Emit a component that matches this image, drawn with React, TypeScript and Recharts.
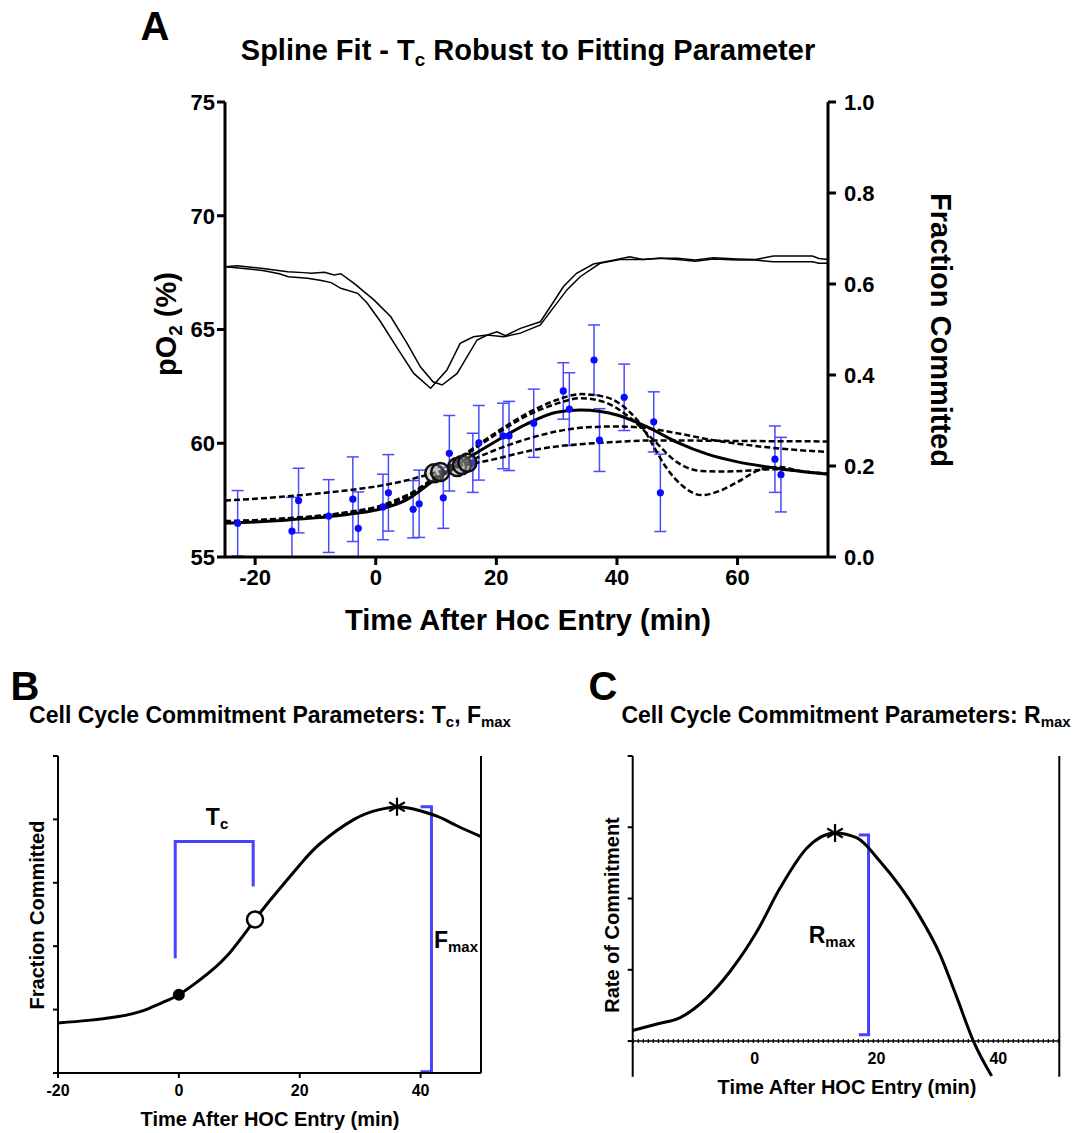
import React from "react";
import { ComposedChart, Line, Scatter, XAxis, YAxis, ErrorBar, ReferenceLine } from "recharts";

const FONT = '"Liberation Sans", Arial, Helvetica, sans-serif';
const BLUE = "#0a0aff";
const BRACKET = "#4444ff";

// ---- Panel A ----
const A_X_TICKS = [-20, 0, 20, 40, 60];
const A_PO2_TICKS = [55, 60, 65, 70, 75];
const A_FRAC_TICKS = [0, 0.2, 0.4, 0.6, 0.8, 1.0];

// two pO2 traces (time, pO2 %)
const po2TraceOne = [
  [-25, 67.76], [-21, 67.66], [-18.5, 67.58], [-16, 67.45], [-14.5, 67.32], [-11.3, 67.25],
  [-9, 67.15], [-7.4, 67.06], [-5.8, 66.81], [-3, 66.59], [-1.4, 66.15], [0.8, 65.34],
  [3.6, 64.17], [6.3, 63.07], [9.1, 62.42], [11.8, 63.22], [14, 64.39], [16.2, 64.68],
  [18.5, 64.76], [20.1, 64.9], [21.5, 64.73], [24, 65.05], [27.3, 65.34], [29.5, 66.22],
  [31.1, 66.88], [33.3, 67.47], [36.1, 67.88], [39.4, 68.05], [42.1, 68.2], [44.3, 68.08],
  [47.1, 68.13], [50, 68.13], [53, 68.05], [56, 68.15], [60, 68.1], [63, 68.08],
  [65.9, 68.23], [72.4, 68.23], [73.5, 68.12], [75, 68.08],
];
const po2TraceTwo = [
  [-25, 67.76], [-23, 67.8], [-19, 67.69], [-14.6, 67.54], [-12, 67.5], [-10.7, 67.47],
  [-8.5, 67.52], [-6.9, 67.4], [-5.8, 67.45], [-3.6, 67.03], [-0.3, 66.3], [2.5, 65.56],
  [5.2, 64.39], [7.4, 63.36], [9.5, 62.7], [11, 62.56], [13.5, 63.07], [16.8, 64.54],
  [18.5, 64.76], [21.2, 64.68], [24, 64.84], [27.3, 65.2], [30, 66.15], [31.7, 66.74],
  [33.9, 67.32], [37.2, 67.91], [40.5, 68.08], [44.3, 68.08], [47.1, 68.13], [50, 68.08],
  [53, 68.0], [56, 68.1], [60, 68.05], [63, 68.05], [65.9, 67.98], [72.4, 67.98],
  [73.5, 67.91], [75, 67.91],
];

// fraction committed measurements: time, fraction, error (number or [low, high])
const commitPoints: [number, number, number | number[]][] = [
  [-22.9, 0.074, 0.072], [-13.9, 0.057, [0.057, 0.074]], [-12.8, 0.124, 0.071],
  [-7.8, 0.09, 0.08], [-3.8, 0.127, 0.093], [-2.9, 0.063, [0.063, 0.08]],
  [1.2, 0.11, 0.072], [2.1, 0.141, 0.084], [6.2, 0.105, 0.063], [7.2, 0.117, 0.074],
  [11.2, 0.13, 0.067], [12.2, 0.228, 0.083], [16.1, 0.207, 0.065], [17.1, 0.251, 0.082],
  [21.1, 0.266, 0.072], [22.1, 0.266, 0.076], [26.2, 0.294, 0.075], [31.1, 0.365, 0.062],
  [32.1, 0.325, 0.08], [36.2, 0.433, 0.077], [37.1, 0.257, 0.069], [41.2, 0.351, 0.073],
  [46.1, 0.297, 0.066], [47.2, 0.141, 0.085], [66.2, 0.215, 0.073], [67.2, 0.181, 0.082],
];

const splineMain = [
  [-25, 0.074], [-20, 0.077], [-15, 0.081], [-10, 0.086], [-5, 0.093], [0, 0.103],
  [5, 0.125], [10, 0.172], [15, 0.215], [20, 0.255], [25, 0.292], [30, 0.318], [34, 0.323],
  [40, 0.312], [45, 0.286], [50, 0.252], [55, 0.226], [60, 0.209], [65, 0.198], [70, 0.189],
  [75, 0.182],
];
const splineFlat = [
  [-25, 0.124], [-20, 0.128], [-15, 0.133], [-10, 0.139], [-5, 0.146], [0, 0.155], [5, 0.168],
  [10, 0.186], [15, 0.202], [20, 0.216], [25, 0.232], [30, 0.243], [35, 0.249], [40, 0.253],
  [45, 0.256], [50, 0.256], [60, 0.255], [75, 0.254],
];
const splineMid = [
  [-25, 0.079], [-20, 0.081], [-15, 0.085], [-10, 0.09], [-5, 0.098], [0, 0.11], [5, 0.135],
  [10, 0.172], [15, 0.207], [20, 0.236], [25, 0.259], [30, 0.276], [35, 0.285], [40, 0.287],
  [45, 0.283], [50, 0.272], [55, 0.259], [60, 0.249], [65, 0.241], [70, 0.235], [75, 0.231],
];
const splineTight = [
  [-25, 0.077], [-20, 0.079], [-15, 0.083], [-10, 0.088], [-5, 0.096], [0, 0.107], [5, 0.13],
  [10, 0.175], [15, 0.225], [20, 0.27], [25, 0.31], [30, 0.337], [34, 0.349], [38, 0.34],
  [42, 0.308], [46, 0.258], [50, 0.208], [54, 0.189], [58, 0.188], [62, 0.19], [66, 0.193],
  [70, 0.189], [75, 0.183],
];
const splineWiggly = [
  [-25, 0.078], [-20, 0.08], [-15, 0.084], [-10, 0.089], [-5, 0.097], [0, 0.108], [5, 0.132],
  [10, 0.178], [15, 0.228], [20, 0.274], [25, 0.315], [30, 0.345], [34, 0.358], [38, 0.352],
  [42, 0.32], [44, 0.29], [46, 0.245], [48, 0.2], [51, 0.155], [54, 0.136], [57, 0.145],
  [60, 0.165], [64, 0.193], [67, 0.198], [70, 0.19], [75, 0.183],
];
// Tc estimate of each fit
const tcMarks = [[9.7, 0.184], [10.7, 0.187], [13.5, 0.198], [14.3, 0.202], [15.2, 0.207]];

// ---- Panel B ----
const B_X_TICKS = [-20, 0, 20, 40];
const B_Y_TICKS = [0, 1, 2, 3, 4, 5];
const fractionCurve = [
  [-20, 0.79], [-15, 0.83], [-10, 0.89], [-6, 0.98], [-3, 1.1], [0, 1.235], [3.5, 1.47],
  [7.9, 1.84], [12.6, 2.42], [16.1, 2.84], [20, 3.28], [23.4, 3.62], [29, 4.0], [33, 4.15],
  [36.1, 4.2], [39, 4.16], [42.7, 4.05], [46, 3.9], [50, 3.73],
];
const entryMark = [[0, 1.235]];
const tcMarkB = [[12.6, 2.42]];
const fmaxMark = [[36.1, 4.2]];
const tcBracket = [[-0.6, 1.81], [-0.6, 3.65], [12.3, 3.65], [12.3, 2.94]];
const fmaxBracket = [[40, 4.2], [41.8, 4.2], [41.8, 0.02], [40, 0.02]];

// ---- Panel C ----
const C_X_TICKS = [0, 20, 40];
const C_Y_TICKS = [0, 1, 2, 3, 4];
const C_Y_MIN = -0.5;
const C_Y_MAX = 4;
const rateCurve = [
  [-20, 0.15], [-16, 0.24], [-12.2, 0.33], [-7.8, 0.61], [-4, 0.98], [0.4, 1.54], [4.2, 2.15],
  [8.6, 2.71], [13.2, 2.92], [16.8, 2.85], [20.6, 2.52], [26.6, 1.82], [30.4, 1.22],
  [33.2, 0.61], [35.9, 0], [38.9, -0.49],
];
const rmaxMark = [[13.2, 2.92]];
const rmaxBracket = [[17.1, 2.89], [18.7, 2.89], [18.7, 0.09], [17.1, 0.09]];

const pts = (arr: number[][]) => arr.map(([x, y]) => ({ x, y }));

const Txt = ({ x, y, size, rotate = 0, children }: any) => (
  <div
    style={{
      position: "absolute",
      left: x,
      top: y,
      transform: `translate(-50%, -50%) rotate(${rotate}deg)`,
      fontSize: size,
      fontWeight: 700,
      whiteSpace: "nowrap",
      lineHeight: 1,
      color: "#000",
    }}
  >
    {children}
  </div>
);
const Sub = ({ children }: any) => (
  <span style={{ fontSize: "0.65em", position: "relative", top: "0.3em" }}>{children}</span>
);

const Asterisk = ({ cx, cy }: any) => {
  const r = 9;
  const arms = [90, 30, 150].map((a) => {
    const dx = r * Math.cos((a * Math.PI) / 180);
    const dy = r * Math.sin((a * Math.PI) / 180);
    return <line key={a} x1={cx - dx} y1={cy - dy} x2={cx + dx} y2={cy + dy} stroke="#000" strokeWidth={2.2} />;
  });
  return <g>{arms}</g>;
};

const axisA = { stroke: "#000", strokeWidth: 3 };
const tickA = { fill: "#000", fontSize: 22, fontWeight: 700 };
const axisBC = { stroke: "#000", strokeWidth: 2 };
const tickBC = { fill: "#000", fontSize: 16, fontWeight: 700 };

function PanelA() {
  return (
    <ComposedChart width={1075} height={640} margin={{ top: 102, right: 187, bottom: 53, left: 165 }}>
      <XAxis type="number" dataKey="x" domain={[-25, 75]} ticks={A_X_TICKS} allowDataOverflow
        axisLine={axisA} tickLine={axisA} tickSize={8} tickMargin={4} tick={tickA} height={30} />
      <YAxis yAxisId="po2" dataKey="y" orientation="left" type="number" domain={[55, 75]} ticks={A_PO2_TICKS}
        allowDataOverflow axisLine={axisA} tickLine={axisA} tickSize={8} tickMargin={2} tick={tickA} width={60} />
      <YAxis yAxisId="frac" dataKey="y" orientation="right" type="number" domain={[0, 1]} ticks={A_FRAC_TICKS}
        allowDataOverflow tickFormatter={(v) => v.toFixed(1)} axisLine={axisA} tickLine={axisA} tickSize={8}
        tickMargin={8} tick={tickA} width={60} />
      <Line yAxisId="po2" data={pts(po2TraceOne)} dataKey="y" type="linear" stroke="#000" strokeWidth={1.5} dot={false} isAnimationActive={false} />
      <Line yAxisId="po2" data={pts(po2TraceTwo)} dataKey="y" type="linear" stroke="#000" strokeWidth={1.5} dot={false} isAnimationActive={false} />
      <Scatter
        yAxisId="frac"
        data={commitPoints.map(([x, y, err]) => ({ x, y, err }))}
        dataKey="y"
        isAnimationActive={false}
        shape={(p: any) => <circle cx={p.cx} cy={p.cy} r={3.6} fill={BLUE} />}
      >
        <ErrorBar dataKey="err" direction="y" width={6} stroke="#4a4aff" strokeWidth={1.5} isAnimationActive={false} />
      </Scatter>
      {[splineFlat, splineMid, splineTight, splineWiggly].map((s, i) => (
        <Line key={i} yAxisId="frac" data={pts(s)} dataKey="y" type="monotone" stroke="#000" strokeWidth={2.5}
          strokeDasharray="6 3" dot={false} isAnimationActive={false} />
      ))}
      <Line yAxisId="frac" data={pts(splineMain)} dataKey="y" type="monotone" stroke="#000" strokeWidth={3} dot={false} isAnimationActive={false} />
      <Scatter
        yAxisId="frac"
        data={pts(tcMarks)}
        dataKey="y"
        isAnimationActive={false}
        shape={(p: any) => (
          <circle cx={p.cx} cy={p.cy} r={9} fill="rgba(150,150,150,0.35)" stroke="#111" strokeWidth={2.5} />
        )}
      />
    </ComposedChart>
  );
}

function PanelB() {
  return (
    <ComposedChart width={540} height={473} margin={{ top: 96, right: 54, bottom: 35, left: 38 }}>
      <XAxis type="number" dataKey="x" domain={[-20, 50]} ticks={B_X_TICKS} allowDataOverflow
        axisLine={axisBC} tickLine={axisBC} tickSize={5} tickMargin={7} tick={tickBC} height={25} />
      <YAxis yAxisId="l" dataKey="y" type="number" domain={[0, 5]} ticks={B_Y_TICKS} allowDataOverflow
        tickFormatter={() => ""} axisLine={axisBC} tickLine={axisBC} tickSize={5} width={20} />
      <YAxis yAxisId="r" orientation="right" type="number" domain={[0, 5]} ticks={[]} tick={false}
        axisLine={axisBC} tickLine={false} width={5} />
      <Line yAxisId="l" data={pts(tcBracket)} dataKey="y" type="linear" stroke={BRACKET} strokeWidth={3} dot={false} isAnimationActive={false} />
      <Line yAxisId="l" data={pts(fmaxBracket)} dataKey="y" type="linear" stroke={BRACKET} strokeWidth={3} dot={false} isAnimationActive={false} />
      <Line yAxisId="l" data={pts(fractionCurve)} dataKey="y" type="natural" stroke="#000" strokeWidth={3} dot={false} isAnimationActive={false} />
      <Scatter yAxisId="l" data={pts(entryMark)} dataKey="y" isAnimationActive={false}
        shape={(p: any) => <circle cx={p.cx} cy={p.cy} r={6} fill="#000" />} />
      <Scatter yAxisId="l" data={pts(tcMarkB)} dataKey="y" isAnimationActive={false}
        shape={(p: any) => <circle cx={p.cx} cy={p.cy} r={8} fill="#fff" stroke="#000" strokeWidth={2.5} />} />
      <Scatter yAxisId="l" data={pts(fmaxMark)} dataKey="y" isAnimationActive={false} shape={Asterisk} />
    </ComposedChart>
  );
}

const C_TOP = 96;
const C_BOTTOM = 56.3;
const C_HEIGHT = 473;
const C_SHIFT = ((C_HEIGHT - C_TOP - C_BOTTOM) * (0 - C_Y_MIN)) / (C_Y_MAX - C_Y_MIN);

const ZeroAxisTick = ({ x, y, payload }: any) => (
  <text x={x} y={y - C_SHIFT} dy="0.71em" textAnchor="middle" fill="#000" fontSize={16} fontWeight={700}>
    {payload.value}
  </text>
);

function PanelC() {
  return (
    <ComposedChart width={535} height={C_HEIGHT} margin={{ top: C_TOP, right: 10.7, bottom: C_BOTTOM - 25, left: 72.7 }}>
      <XAxis type="number" dataKey="x" domain={[-20, 50]} ticks={C_X_TICKS} allowDataOverflow
        axisLine={false} tickLine={false} tickSize={0} tickMargin={12} tick={<ZeroAxisTick />} height={25} />
      <YAxis yAxisId="l" dataKey="y" type="number" domain={[C_Y_MIN, C_Y_MAX]} ticks={C_Y_TICKS} allowDataOverflow
        tickFormatter={() => ""} axisLine={axisBC} tickLine={axisBC} tickSize={5} width={20} />
      <YAxis yAxisId="r" orientation="right" type="number" domain={[C_Y_MIN, C_Y_MAX]} ticks={[C_Y_MIN]}
        tickFormatter={() => ""} axisLine={axisBC} tickLine={axisBC} tickSize={6} width={5} />
      <ReferenceLine yAxisId="l" y={0} stroke="#000" strokeWidth={4} strokeDasharray="1.2 3.8" />
      <ReferenceLine yAxisId="l" y={0} stroke="#000" strokeWidth={1.5} />
      <Line yAxisId="l" data={pts(rmaxBracket)} dataKey="y" type="linear" stroke={BRACKET} strokeWidth={3} dot={false} isAnimationActive={false} />
      <Line yAxisId="l" data={pts(rateCurve)} dataKey="y" type="monotone" stroke="#000" strokeWidth={3} dot={false} isAnimationActive={false} />
      <Scatter yAxisId="l" data={pts(rmaxMark)} dataKey="y" isAnimationActive={false} shape={Asterisk} />
    </ComposedChart>
  );
}

export default function App() {
  return (
    <div style={{ position: "absolute", left: 0, top: 0, width: 1075, height: 1133, background: "#fff", fontFamily: FONT, overflow: "hidden" }}>
      <div style={{ position: "absolute", left: 0, top: 0 }}>
        <PanelA />
      </div>
      <div style={{ position: "absolute", left: 0, top: 660 }}>
        <PanelB />
      </div>
      <div style={{ position: "absolute", left: 540, top: 660 }}>
        <PanelC />
      </div>

      <Txt x={155} y={26} size={40}>A</Txt>
      <Txt x={528} y={50} size={29}>Spline Fit - T<Sub>c</Sub> Robust to Fitting Parameter</Txt>
      <Txt x={528} y={620} size={29}>Time After Hoc Entry (min)</Txt>
      <Txt x={166} y={324} size={29} rotate={-90}>pO<Sub>2</Sub> (%)</Txt>
      <Txt x={940} y={330} size={29} rotate={90}>Fraction Committed</Txt>

      <Txt x={25} y={686} size={40}>B</Txt>
      <Txt x={270} y={715} size={23}>Cell Cycle Commitment Parameters: T<Sub>c</Sub>, F<Sub>max</Sub></Txt>
      <Txt x={270} y={1119} size={20}>Time After HOC Entry (min)</Txt>
      <Txt x={37} y={915} size={20} rotate={-90}>Fraction Committed</Txt>
      <Txt x={217} y={817} size={23}>T<Sub>c</Sub></Txt>
      <Txt x={456} y={940} size={23}>F<Sub>max</Sub></Txt>

      <Txt x={603} y={686} size={40}>C</Txt>
      <Txt x={846} y={715} size={23}>Cell Cycle Commitment Parameters: R<Sub>max</Sub></Txt>
      <Txt x={847} y={1087} size={20}>Time After HOC Entry (min)</Txt>
      <Txt x={612} y={915} size={20} rotate={-90}>Rate of Commitment</Txt>
      <Txt x={832} y={935} size={23}>R<Sub>max</Sub></Txt>
    </div>
  );
}
